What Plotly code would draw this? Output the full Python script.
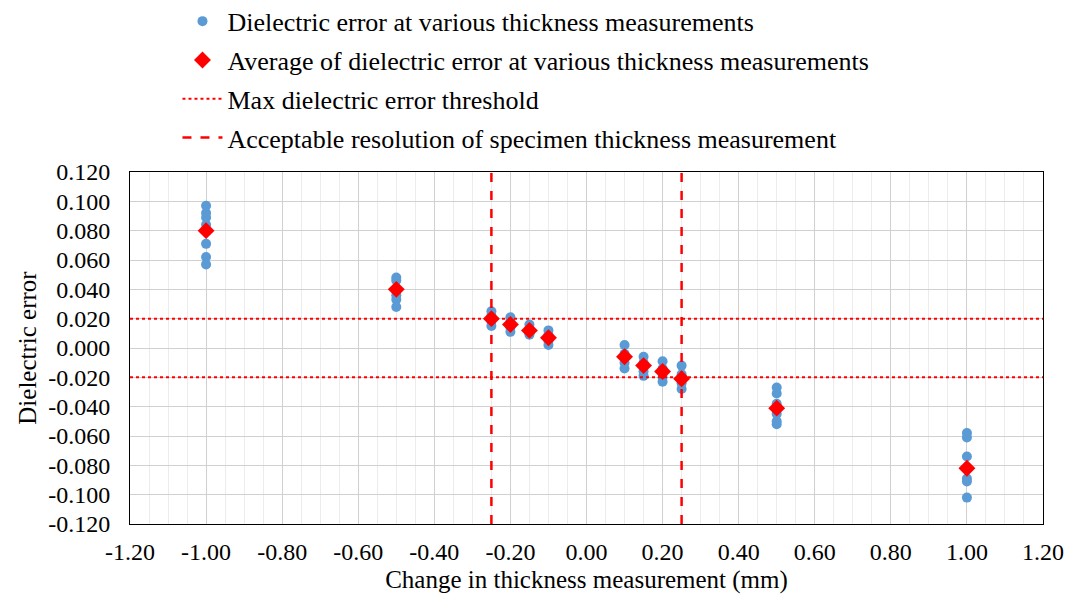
import plotly.graph_objects as go

x_vals = [-1.00, -0.50, -0.25, -0.20, -0.15, -0.10, 0.10, 0.15, 0.20, 0.25, 0.50, 1.00]
errors = [
    [0.097, 0.092, 0.089, 0.084, 0.071, 0.062, 0.057],
    [0.048, 0.046, 0.040, 0.036, 0.033, 0.028],
    [0.025, 0.022, 0.018, 0.015],
    [0.021, 0.018, 0.014, 0.011],
    [0.016, 0.013, 0.010, 0.009],
    [0.012, 0.009, 0.005, 0.002],
    [0.002, -0.004, -0.010, -0.014],
    [-0.006, -0.010, -0.016, -0.019],
    [-0.009, -0.014, -0.020, -0.023],
    [-0.012, -0.018, -0.024, -0.028],
    [-0.027, -0.031, -0.038, -0.045, -0.050, -0.052],
    [-0.058, -0.061, -0.074, -0.089, -0.091, -0.102],
]
averages = [0.080, 0.040, 0.020, 0.016, 0.012, 0.007, -0.006, -0.012, -0.016, -0.021, -0.041, -0.082]
threshold = 0.020
resolution = 0.25
x_ticks = [-1.2, -1.0, -0.8, -0.6, -0.4, -0.2, 0.0, 0.2, 0.4, 0.6, 0.8, 1.0, 1.2]
y_ticks = [-0.12, -0.10, -0.08, -0.06, -0.04, -0.02, 0.0, 0.02, 0.04, 0.06, 0.08, 0.10, 0.12]

px, py = [], []
for xv, ys in zip(x_vals, errors):
    for y in ys:
        px.append(xv); py.append(y)

font = "Liberation Serif"
fig = go.Figure()
fig.add_trace(go.Scatter(x=px, y=py, mode="markers", marker=dict(color="#5B9BD5", size=10),
                         legendgroup="a", name="Dielectric error at various thickness measurements"))
fig.add_trace(go.Scatter(x=x_vals, y=averages, mode="markers", marker=dict(color="red", size=13, symbol="diamond"),
                         legendgroup="b", name="Average of dielectric error at various thickness measurements"))
fig.add_trace(go.Scatter(x=[-1.2, 1.2], y=[threshold, threshold], mode="lines", legendgroup="c",
                         line=dict(color="red", dash="dot", width=2), name="Max dielectric error threshold"))
fig.add_trace(go.Scatter(x=[-1.2, 1.2], y=[-threshold, -threshold], mode="lines", legendgroup="c",
                         line=dict(color="red", dash="dot", width=2), showlegend=False))
fig.add_trace(go.Scatter(x=[-resolution, -resolution], y=[-0.12, 0.12], mode="lines", legendgroup="d",
                         line=dict(color="red", dash="dash", width=2.5),
                         name="Acceptable resolution of specimen thickness measurement"))
fig.add_trace(go.Scatter(x=[resolution, resolution], y=[-0.12, 0.12], mode="lines", legendgroup="d",
                         line=dict(color="red", dash="dash", width=2.5), showlegend=False))

fig.update_layout(
    width=1072, height=605, paper_bgcolor="white", plot_bgcolor="white",
    margin=dict(l=122, r=37, t=164, b=89, autoexpand=False),
    font=dict(family=font, size=24, color="black"),
    legend=dict(x=0.052, y=1.495, xref="paper", yref="paper", xanchor="left", yanchor="top",
                font=dict(size=26), tracegroupgap=2, itemwidth=40, bgcolor="rgba(0,0,0,0)"),
    xaxis=dict(range=[-1.2, 1.2], tickvals=x_ticks, ticktext=[f"{v:.2f}" for v in x_ticks],
               showgrid=True, gridcolor="#d0d0d0", ticklabelstandoff=6,
               minor=dict(dtick=0.05, showgrid=True, gridcolor="#ececec"),
               zeroline=False, showline=True, linecolor="black", mirror=True, ticks="",
               tickfont=dict(size=24),
               title=dict(text="Change in thickness measurement (mm)", font=dict(size=25), standoff=6)),
    yaxis=dict(range=[-0.12, 0.12], tickvals=y_ticks, ticktext=[f"{v:.3f}" for v in y_ticks],
               showgrid=True, gridcolor="#d0d0d0", ticklabelstandoff=14,
               zeroline=False, showline=True, linecolor="black", mirror=True, ticks="",
               tickfont=dict(size=24),
               title=dict(text="Dielectric error", font=dict(size=25), standoff=4)),
)
fig.write_html("out.html")
